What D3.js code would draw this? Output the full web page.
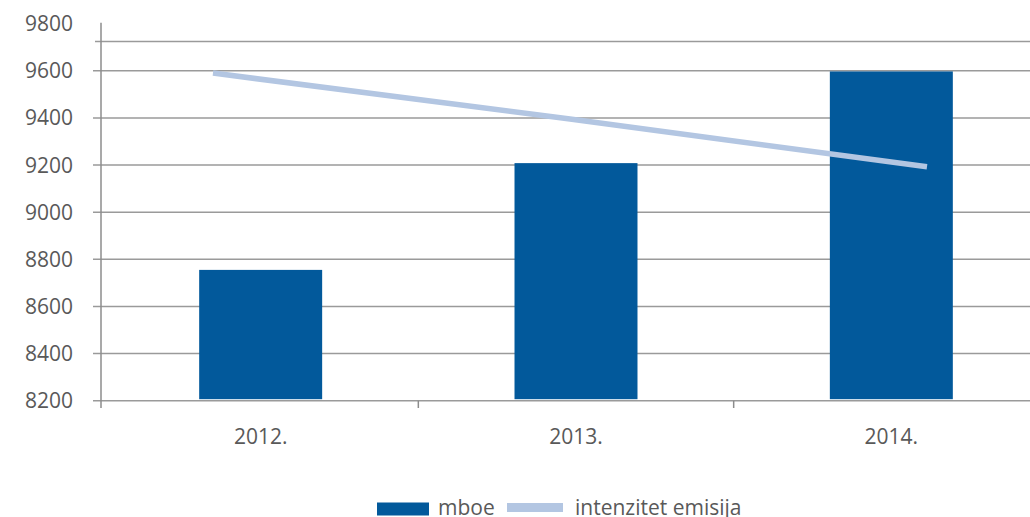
<!DOCTYPE html>
<html><head><meta charset="utf-8">
<script src="https://cdn.jsdelivr.net/npm/d3@7"></script>
<style>body{margin:0;background:#fff}svg{display:block}text{font-family:"Open Sans",sans-serif;fill:#595959}</style>
</head><body><svg id="c" width="1030" height="517"></svg>
<script>
const categories = ["2012.", "2013.", "2014."];
const mboe = [8755, 9208, 9597];
const intenzitet = [9590, 9395, 9193];
const yTicks = [8200, 8400, 8600, 8800, 9000, 9200, 9400, 9600, 9800];

const svg = d3.select("#c");
const x0 = 101, x1 = 1049;
const y = d3.scaleLinear().domain([8200, 9800]).range([400.7, 23.6]);
const x = d3.scaleBand().domain(categories).range([x0 + 2, x1]).paddingInner(0.61).paddingOuter(0.305);
const xl = d3.scalePoint().domain(categories).range([213, 927]);

// gridlines
svg.append("g").selectAll("line").data(yTicks.slice(0, -1)).join("line")
  .attr("x1", 93).attr("x2", 1030).attr("y1", d => y(d)).attr("y2", d => y(d))
  .attr("stroke", "#9a9a9a").attr("stroke-width", 1.5);
// top frame line
svg.append("line").attr("x1", 95).attr("x2", 1030).attr("y1", 41.5).attr("y2", 41.5)
  .attr("stroke", "#9a9a9a").attr("stroke-width", 1.5);

// y labels
svg.append("g").selectAll("text").data(yTicks).join("text")
  .attr("x", 73).attr("y", d => y(d)).attr("dy", "0.36em").attr("text-anchor", "end")
  .style("font-size", "21px").text(d => d);

// bars
svg.append("g").selectAll("rect").data(mboe).join("rect")
  .attr("x", (d, i) => x(categories[i])).attr("width", x.bandwidth())
  .attr("y", d => y(d)).attr("height", d => y(8200) - 1.5 - y(d))
  .attr("fill", "#02599b");

// y axis line
svg.append("line").attr("x1", x0).attr("x2", x0).attr("y1", 22.7).attr("y2", 408)
  .attr("stroke", "#8c8c8c").attr("stroke-width", 1.5);
// x tick marks at band boundaries
const step = x.step();
svg.append("g").selectAll("line").data(categories.slice(1)).join("line")
  .attr("x1", d => x(d) - (step - x.bandwidth()) / 2).attr("x2", d => x(d) - (step - x.bandwidth()) / 2)
  .attr("y1", y(8200)).attr("y2", 408).attr("stroke", "#8c8c8c").attr("stroke-width", 1.5);

// x labels
svg.append("g").selectAll("text").data(categories).join("text")
  .attr("x", d => x(d) + x.bandwidth() / 2).attr("y", 444)
  .attr("text-anchor", "middle").style("font-size", "21px").text(d => d);

// line
const line = d3.line().x((d, i) => xl(categories[i])).y(d => y(d));
svg.append("path").datum(intenzitet).attr("d", line).attr("fill", "none")
  .attr("stroke", "#b3c6e2").attr("stroke-width", 5.5);

// legend
const lg = svg.append("g");
lg.append("rect").attr("x", 377).attr("y", 502.5).attr("width", 52).attr("height", 13).attr("fill", "#02599b");
lg.append("text").attr("x", 438).attr("y", 514.5).style("font-size", "21px").text("mboe");
lg.append("rect").attr("x", 507).attr("y", 503).attr("width", 56).attr("height", 9).attr("fill", "#b3c6e2");
lg.append("text").attr("x", 575).attr("y", 514.5).style("font-size", "21px").text("intenzitet emisija");
</script></body></html>
